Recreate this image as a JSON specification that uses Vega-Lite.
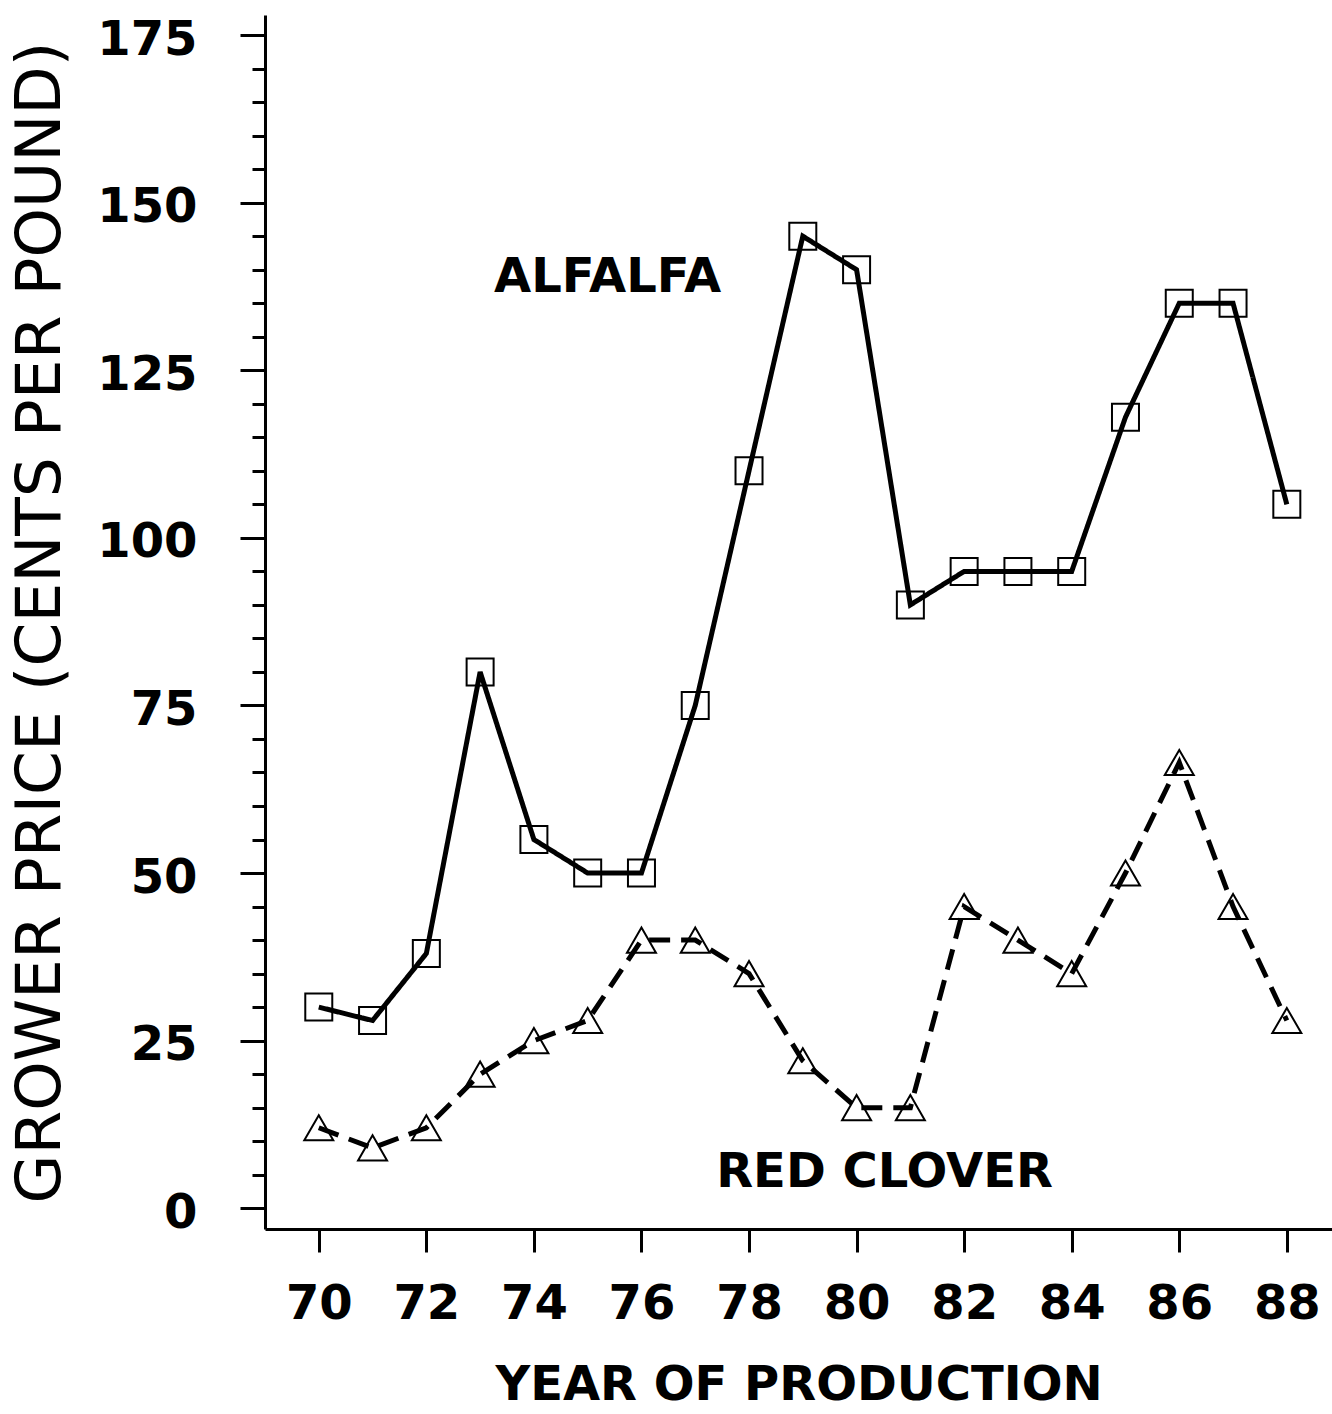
{
  "$schema": "https://vega.github.io/schema/vega-lite/v6.json",
  "width": 1067,
  "height": 1214,
  "autosize": {"type": "none"},
  "padding": {"left": 265, "top": 15, "right": 0, "bottom": 185},
  "background": "white",
  "config": {"view": {"stroke": null}, "font": "DejaVu Sans"},
  "datasets": {
    "prices": [
      {"series": "ALFALFA", "year": 70, "price": 30},
      {"series": "ALFALFA", "year": 71, "price": 28},
      {"series": "ALFALFA", "year": 72, "price": 38},
      {"series": "ALFALFA", "year": 73, "price": 80},
      {"series": "ALFALFA", "year": 74, "price": 55},
      {"series": "ALFALFA", "year": 75, "price": 50},
      {"series": "ALFALFA", "year": 76, "price": 50},
      {"series": "ALFALFA", "year": 77, "price": 75},
      {"series": "ALFALFA", "year": 78, "price": 110},
      {"series": "ALFALFA", "year": 79, "price": 145},
      {"series": "ALFALFA", "year": 80, "price": 140},
      {"series": "ALFALFA", "year": 81, "price": 90},
      {"series": "ALFALFA", "year": 82, "price": 95},
      {"series": "ALFALFA", "year": 83, "price": 95},
      {"series": "ALFALFA", "year": 84, "price": 95},
      {"series": "ALFALFA", "year": 85, "price": 118},
      {"series": "ALFALFA", "year": 86, "price": 135},
      {"series": "ALFALFA", "year": 87, "price": 135},
      {"series": "ALFALFA", "year": 88, "price": 105},
      {"series": "RED CLOVER", "year": 70, "price": 12},
      {"series": "RED CLOVER", "year": 71, "price": 9},
      {"series": "RED CLOVER", "year": 72, "price": 12},
      {"series": "RED CLOVER", "year": 73, "price": 20},
      {"series": "RED CLOVER", "year": 74, "price": 25},
      {"series": "RED CLOVER", "year": 75, "price": 28},
      {"series": "RED CLOVER", "year": 76, "price": 40},
      {"series": "RED CLOVER", "year": 77, "price": 40},
      {"series": "RED CLOVER", "year": 78, "price": 35},
      {"series": "RED CLOVER", "year": 79, "price": 22},
      {"series": "RED CLOVER", "year": 80, "price": 15},
      {"series": "RED CLOVER", "year": 81, "price": 15},
      {"series": "RED CLOVER", "year": 82, "price": 45},
      {"series": "RED CLOVER", "year": 83, "price": 40},
      {"series": "RED CLOVER", "year": 84, "price": 35},
      {"series": "RED CLOVER", "year": 85, "price": 50},
      {"series": "RED CLOVER", "year": 86, "price": 66.5},
      {"series": "RED CLOVER", "year": 87, "price": 45},
      {"series": "RED CLOVER", "year": 88, "price": 28}
    ],
    "labels": [
      {"label": "ALFALFA", "year": 75.37, "price": 138.7},
      {"label": "RED CLOVER", "year": 80.52, "price": 5.2}
    ]
  },
  "encoding": {
    "x": {
      "field": "year",
      "type": "quantitative",
      "scale": {"domain": [69, 88.84], "nice": false, "zero": false},
      "axis": {
        "title": "YEAR OF PRODUCTION",
        "values": [70, 72, 74, 76, 78, 80, 82, 84, 86, 88],
        "format": "d",
        "grid": false,
        "domainColor": "black",
        "domainWidth": 3,
        "tickColor": "black",
        "tickWidth": 3,
        "tickSize": 23,
        "labelFont": "DejaVu Sans",
        "labelFontWeight": "bold",
        "labelFontSize": 48,
        "labelColor": "black",
        "labelPadding": 28,
        "labelFlush": false,
        "labelOverlap": false,
        "titleFont": "DejaVu Sans",
        "titleFontWeight": "bold",
        "titleFontSize": 48,
        "titleColor": "black",
        "titlePadding": 33
      }
    },
    "y": {
      "field": "price",
      "type": "quantitative",
      "scale": {"domain": [-3.1, 178], "nice": false, "zero": false},
      "axis": {
        "title": "GROWER PRICE (CENTS PER POUND)",
        "values": [0, 5, 10, 15, 20, 25, 30, 35, 40, 45, 50, 55, 60, 65, 70, 75, 80, 85, 90, 95, 100, 105, 110, 115, 120, 125, 130, 135, 140, 145, 150, 155, 160, 165, 170, 175],
        "labelExpr": "datum.value % 25 === 0 ? datum.label : ''",
        "grid": false,
        "domainColor": "black",
        "domainWidth": 3,
        "tickColor": "black",
        "tickWidth": 3,
        "tickSize": {"condition": {"test": "datum.value % 25 === 0", "value": 25}, "value": 13},
        "labelFont": "DejaVu Sans",
        "labelFontWeight": "bold",
        "labelFontSize": 48,
        "labelColor": "black",
        "labelPadding": 43,
        "labelOffset": 5,
        "labelFlush": false,
        "labelOverlap": false,
        "titleFont": "DejaVu Sans",
        "titleFontWeight": "normal",
        "titleFontSize": 63,
        "titleColor": "black",
        "titlePadding": 24
      }
    }
  },
  "layer": [
    {
      "data": {"name": "prices"},
      "mark": {"type": "line", "strokeWidth": 5, "color": "black"},
      "encoding": {
        "strokeDash": {
          "field": "series",
          "type": "nominal",
          "scale": {"domain": ["ALFALFA", "RED CLOVER"], "range": [[1, 0], [21, 11]]},
          "legend": null
        }
      }
    },
    {
      "data": {"name": "prices"},
      "mark": {"type": "point", "filled": false, "strokeWidth": 2, "color": "black", "opacity": 1},
      "encoding": {
        "shape": {
          "field": "series",
          "type": "nominal",
          "scale": {"domain": ["ALFALFA", "RED CLOVER"], "range": ["square", "triangle-up"]},
          "legend": null
        },
        "size": {
          "field": "series",
          "type": "nominal",
          "scale": {"domain": ["ALFALFA", "RED CLOVER"], "range": [729, 840]},
          "legend": null
        }
      }
    },
    {
      "data": {"name": "labels"},
      "mark": {"type": "text", "font": "DejaVu Sans", "fontWeight": "bold", "fontSize": 48, "color": "black", "align": "center", "baseline": "middle"},
      "encoding": {
        "text": {"field": "label", "type": "nominal"}
      }
    }
  ]
}
